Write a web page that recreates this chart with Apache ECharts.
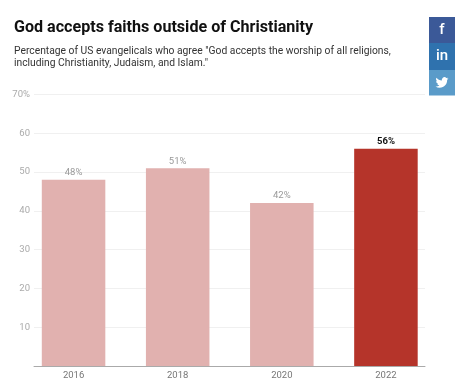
<!DOCTYPE html>
<html><head><meta charset="utf-8">
<style>html,body{margin:0;padding:0;background:#fff}#c{width:474px;height:384px}</style>
<script src="https://cdn.jsdelivr.net/npm/echarts@6/dist/echarts.min.js"></script>
</head><body><div id="c"></div>
<script>
const categories = ['2016','2018','2020','2022'];
const values = [48,51,42,56];
const highlightCategory = '2022';
const yTicks = [10,20,30,40,50,60,70];
const titleText = 'God accepts faiths outside of Christianity';
const subtitleText = 'Percentage of US evangelicals who agree "God accepts the worship of all religions,\nincluding Christianity, Judaism, and Islam."';
const twitterPath = 'M23.953 4.57 a10 10 0 0 1 -2.825 .775 4.958 4.958 0 0 0 2.163 -2.723 c-.951 .555 -2.005 .959 -3.127 1.184 a4.92 4.92 0 0 0 -8.384 4.482 C7.69 8.095 4.067 6.13 1.64 3.162 a4.822 4.822 0 0 0 -.666 2.475 c0 1.71 .87 3.213 2.188 4.096 a4.904 4.904 0 0 1 -2.228 -.616 v.06 a4.923 4.923 0 0 0 3.946 4.827 4.996 4.996 0 0 1 -2.212 .085 4.936 4.936 0 0 0 4.604 3.417 9.867 9.867 0 0 1 -6.102 2.105 c-.39 0 -.779 -.023 -1.17 -.067 a13.995 13.995 0 0 0 7.557 2.209 c9.053 0 13.998 -7.496 13.998 -13.985 0 -.21 0 -.42 -.015 -.63 A9.935 9.935 0 0 0 24 4.59 z';
const font = 'Roboto';
echarts.graphic.registerShape('twitterBird', echarts.graphic.extendPath(twitterPath, {}));
const chart = echarts.init(document.getElementById('c'), null, {renderer:'canvas'});
chart.setOption({
  animation:false,
  backgroundColor:'#fff',
  title:[
    {text:titleText,left:9,top:14.5,textStyle:{fontFamily:font,fontSize:16.1,fontWeight:'bold',color:'#111'}},
    {text:subtitleText,left:9,top:40,textStyle:{fontFamily:font,fontSize:10.3,fontWeight:'normal',color:'#333',lineHeight:12.5}}
  ],
  grid:[
    {left:34,width:391,top:94.5,height:271.5},
    {left:21.5,width:416.5,top:94.5,height:271.5}
  ],
  xAxis:[
    {gridIndex:0,type:'category',data:categories,axisLine:{show:true,lineStyle:{color:'#aaa',width:1}},axisTick:{show:false},axisLabel:{show:false}},
    {gridIndex:1,type:'category',data:categories,axisLine:{show:false},axisTick:{show:false},
     axisLabel:{fontFamily:font,fontSize:9.5,color:'#777',margin:5}}
  ],
  yAxis:[
    {gridIndex:0,type:'value',min:0,max:70,interval:10,
     axisLine:{show:false},axisTick:{show:false},
     splitLine:{lineStyle:{color:'#f0f0f0',width:1}},
     axisLabel:{fontFamily:font,fontSize:9.5,color:'#aaa',margin:4,
       formatter:v=>v===0?'':(v===yTicks[yTicks.length-1]?v+'%':String(v))}},
    {gridIndex:1,type:'value',min:0,max:70,interval:10,show:false}
  ],
  series:[{
    type:'bar',xAxisIndex:1,yAxisIndex:1,barCategoryGap:'39%',z:3,
    data:categories.map((c,i)=>{
      const hi=c===highlightCategory;
      return {value:values[i],
        itemStyle:{color:hi?'#b5342a':'#e1b1af'},
        label:{show:true,position:'top',distance:2,formatter:'{c}%',fontFamily:font,fontSize:9.5,
          color:hi?'#111':'#999',fontWeight:hi?'bold':'normal'}};
    })
  }],
  graphic:[
    {type:'rect',shape:{x:429,y:17,width:26,height:26},style:{fill:'#3b5998'}},
    {type:'rect',shape:{x:429,y:43,width:26,height:27},style:{fill:'#2f72ae'}},
    {type:'rect',shape:{x:429,y:70,width:26,height:25.5},style:{fill:'#5a9bc9'}},
    {type:'text',style:{x:442,y:30.5,text:'f',fill:'#fff',font:'500 15px Roboto',align:'center',verticalAlign:'middle'}},
    {type:'text',style:{x:442,y:56.5,text:'in',fill:'#fff',font:'500 15px Roboto',align:'center',verticalAlign:'middle'}},
    {type:'twitterBird',x:435.5,y:76,scaleX:0.54,scaleY:0.54,style:{fill:'#fff'}}
  ]
});
</script></body></html>
